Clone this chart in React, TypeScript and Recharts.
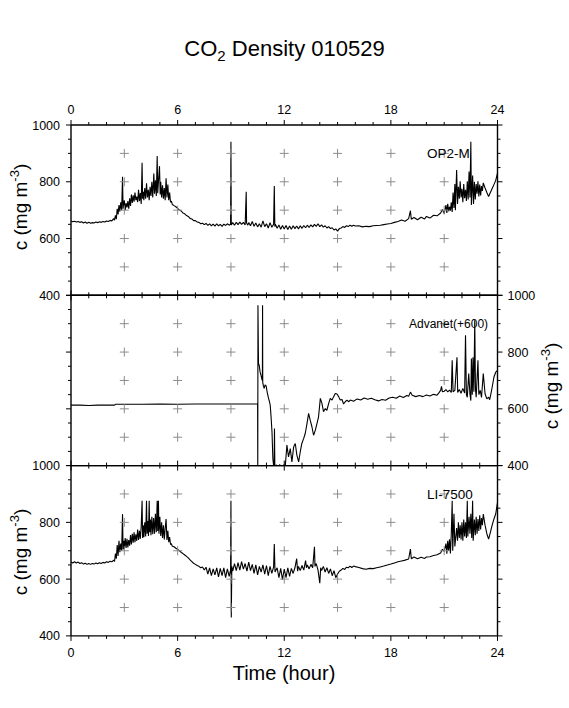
import React from "react";
import { ComposedChart, Line, Scatter, XAxis, YAxis } from "recharts";

// hours of day and concentration ticks shared by the three panels
const hourTicks = [0, 1, 2, 3, 4, 5, 6, 7, 8, 9, 10, 11, 12, 13, 14, 15, 16, 17, 18, 19, 20, 21, 22, 23, 24];
const hourLabels = [0, 6, 12, 18, 24];
const concTicks = [400, 450, 500, 550, 600, 650, 700, 750, 800, 850, 900, 950, 1000];
const concLabels = [400, 600, 800, 1000];
const crossHours = [3, 6, 9, 12, 15, 18, 21];
const crossConc = [500, 600, 700, 800, 900];

// OP2-M open path, [hour, mg m-3]
const op2m: [number, number][] = [
  [0, 662], [0.1, 659], [0.2, 661], [0.3, 658], [0.4, 660], [0.5, 657], [0.6, 659], [0.7, 655], [0.8, 658], [0.9, 654],
  [1.0, 657], [1.1, 654], [1.2, 656], [1.3, 655], [1.4, 658], [1.5, 656], [1.6, 659], [1.7, 657], [1.8, 660], [1.9, 658],
  [2.0, 662], [2.1, 660], [2.2, 664], [2.3, 662], [2.4, 670],
  [2.45, 665], [2.5, 682], [2.55, 668], [2.6, 705], [2.65, 685], [2.7, 718], [2.75, 695], [2.8, 728], [2.85, 700], [2.9, 818],
  [2.93, 705], [2.97, 722], [3.0, 735], [3.05, 700], [3.1, 725], [3.15, 710], [3.2, 732], [3.25, 705], [3.3, 742], [3.35, 715],
  [3.4, 755], [3.45, 725], [3.5, 752], [3.55, 730], [3.6, 762], [3.65, 735], [3.7, 748], [3.75, 728], [3.8, 772], [3.85, 732],
  [3.9, 760], [3.95, 722], [4.0, 867], [4.03, 740], [4.07, 765], [4.1, 735], [4.15, 778], [4.2, 740], [4.25, 795], [4.3, 745],
  [4.35, 772], [4.4, 735], [4.45, 782], [4.5, 750], [4.55, 800], [4.6, 745], [4.66, 829], [4.7, 758], [4.75, 805], [4.8, 750],
  [4.85, 891], [4.88, 760], [4.92, 800], [4.98, 855], [5.02, 755], [5.05, 800], [5.1, 745], [5.15, 788], [5.2, 740], [5.25, 778],
  [5.3, 735], [5.35, 812], [5.4, 745], [5.45, 790], [5.5, 735], [5.55, 762], [5.6, 728], [5.65, 732], [5.7, 720],
  [5.8, 716], [5.9, 712], [6.0, 706], [6.1, 701], [6.2, 697], [6.3, 690], [6.4, 687], [6.5, 681], [6.6, 678], [6.7, 671],
  [6.8, 669], [6.9, 663], [7.0, 663], [7.1, 658], [7.2, 657], [7.3, 652], [7.4, 654], [7.5, 649], [7.6, 653], [7.7, 646],
  [7.8, 652], [7.9, 645], [8.0, 651], [8.1, 644], [8.2, 652], [8.3, 645], [8.4, 650], [8.5, 643], [8.6, 651], [8.7, 646],
  [8.8, 652], [8.9, 647], [8.98, 650], [9.0, 941], [9.02, 648], [9.1, 656], [9.2, 647], [9.3, 657], [9.4, 649], [9.5, 658],
  [9.6, 650], [9.7, 657], [9.8, 648], [9.86, 765], [9.88, 655], [9.95, 647], [10.0, 656], [10.1, 645], [10.2, 660], [10.3, 643],
  [10.4, 655], [10.5, 641], [10.6, 652], [10.7, 640], [10.8, 662], [10.9, 642], [11.0, 652], [11.1, 637], [11.2, 656], [11.3, 640],
  [11.4, 650], [11.44, 785], [11.47, 642], [11.5, 650], [11.6, 636], [11.7, 648], [11.8, 633], [11.9, 646], [12.0, 634], [12.1, 646],
  [12.2, 632], [12.3, 644], [12.4, 633], [12.5, 645], [12.6, 635], [12.7, 644], [12.8, 634], [12.9, 645], [13.0, 636], [13.1, 646],
  [13.2, 638], [13.3, 647], [13.4, 639], [13.5, 648], [13.6, 641], [13.7, 650], [13.8, 643], [13.9, 652], [14.0, 642], [14.1, 648],
  [14.2, 640], [14.3, 645], [14.4, 637], [14.5, 642], [14.6, 635], [14.7, 638], [14.8, 630], [14.9, 634], [15.0, 626], [15.1, 635],
  [15.2, 637], [15.3, 642], [15.4, 639], [15.5, 645], [15.6, 642], [15.7, 647], [15.8, 643], [15.9, 647], [16.0, 644], [16.2, 645],
  [16.4, 641], [16.6, 643], [16.8, 642], [17.0, 645], [17.2, 646], [17.4, 647], [17.6, 649], [17.8, 651], [18.0, 653], [18.2, 657],
  [18.4, 660], [18.6, 665], [18.8, 661], [19.0, 670], [19.1, 698], [19.15, 668], [19.3, 674], [19.5, 666], [19.7, 675], [19.9, 669],
  [20.0, 678], [20.2, 672], [20.4, 682], [20.6, 680], [20.8, 690], [20.9, 702], [21.0, 688], [21.1, 718], [21.15, 690], [21.2, 722],
  [21.25, 696], [21.3, 712], [21.35, 698], [21.4, 728], [21.45, 694], [21.5, 762], [21.55, 708], [21.6, 792], [21.63, 700], [21.7, 841],
  [21.75, 722], [21.8, 782], [21.85, 740], [21.9, 802], [21.95, 745], [22.0, 775], [22.05, 728], [22.1, 792], [22.15, 742], [22.2, 772],
  [22.25, 732], [22.3, 802], [22.35, 738], [22.4, 836], [22.45, 745], [22.5, 941], [22.53, 718], [22.6, 822], [22.65, 722], [22.7, 800],
  [22.75, 738], [22.8, 792], [22.85, 758], [22.9, 802], [22.95, 748], [23.0, 790], [23.05, 752], [23.1, 785], [23.15, 768], [23.2, 796],
  [23.3, 778], [23.4, 762], [23.5, 748], [23.6, 762], [23.7, 776], [23.8, 790], [23.9, 805], [24.0, 830],
];

// Advanet closed path, shifted +600
const advanet: [number, number][] = [
  [0, 613], [0.5, 613], [1, 612], [1.5, 613], [2, 613], [2.45, 613], [2.5, 616], [3, 616], [4, 616], [5, 617],
  [6, 616], [7, 617], [8, 617], [9, 617], [10, 617], [10.5, 617],
  [10.51, 385], [10.52, 965], [10.55, 760], [10.59, 754], [10.64, 730], [10.69, 719], [10.74, 705], [10.77, 700], [10.78, 965], [10.79, 693],
  [10.83, 680], [10.87, 672], [10.92, 684], [10.98, 681], [11.05, 655], [11.12, 636], [11.17, 625], [11.21, 613], [11.26, 570], [11.31, 519],
  [11.36, 424], [11.4, 401], [11.43, 398], [11.45, 531], [11.47, 396], [11.55, 402], [11.65, 397], [11.75, 403], [11.85, 396], [11.95, 402],
  [12.06, 400], [12.15, 472], [12.24, 431], [12.34, 460], [12.43, 413], [12.53, 466], [12.62, 478], [12.71, 437], [12.81, 413], [12.9, 448],
  [12.99, 478], [13.09, 495], [13.18, 513], [13.28, 548], [13.37, 584], [13.46, 560], [13.56, 536], [13.65, 507], [13.75, 525], [13.84, 548],
  [13.93, 572], [14.03, 637], [14.12, 619], [14.21, 590], [14.31, 601], [14.4, 595], [14.5, 619], [14.59, 637], [14.69, 631], [14.78, 643],
  [14.87, 654], [14.97, 652], [15.06, 643], [15.15, 631], [15.25, 633], [15.34, 617], [15.43, 625], [15.53, 631], [15.62, 625], [15.72, 631],
  [15.9, 627], [16.1, 635], [16.3, 631], [16.5, 638], [16.7, 634], [16.9, 637], [17.1, 632], [17.3, 628], [17.5, 633], [17.7, 630],
  [17.9, 638], [18.1, 641], [18.3, 637], [18.5, 645], [18.7, 640], [18.9, 647], [19.0, 644], [19.1, 659], [19.2, 648], [19.4, 643],
  [19.6, 647], [19.8, 643], [20.0, 649], [20.2, 645], [20.4, 651], [20.6, 648], [20.7, 656], [20.8, 665], [20.85, 679], [20.9, 660],
  [21.0, 662], [21.1, 668], [21.2, 660], [21.3, 666], [21.4, 658], [21.45, 771], [21.5, 660], [21.6, 665], [21.72, 782], [21.76, 658],
  [21.85, 668], [21.95, 655], [22.05, 672], [22.15, 656], [22.2, 859], [22.25, 650], [22.3, 641], [22.38, 724], [22.45, 652], [22.5, 629],
  [22.53, 777], [22.58, 650], [22.62, 782], [22.67, 660], [22.72, 912], [22.76, 670], [22.8, 641], [22.9, 771], [22.95, 650], [23.03, 665],
  [23.1, 640], [23.2, 724], [23.3, 653], [23.4, 635], [23.5, 641], [23.56, 632], [23.62, 650], [23.7, 676], [23.8, 712], [23.9, 729],
  [24.0, 735],
];

// LI-7500 open path
const li7500: [number, number][] = [
  [0, 660], [0.1, 657], [0.2, 661], [0.3, 657], [0.4, 660], [0.5, 655], [0.6, 658], [0.7, 653], [0.8, 656], [0.9, 652],
  [1.0, 655], [1.1, 652], [1.2, 655], [1.3, 653], [1.4, 657], [1.5, 654], [1.6, 658], [1.7, 655], [1.8, 659], [1.9, 657],
  [2.0, 661], [2.1, 659], [2.2, 663], [2.3, 661], [2.4, 667],
  [2.45, 662], [2.5, 690], [2.55, 672], [2.6, 720], [2.65, 682], [2.7, 735], [2.75, 695], [2.8, 725], [2.85, 700], [2.9, 829],
  [2.93, 705], [2.97, 735], [3.0, 705], [3.05, 745], [3.1, 710], [3.15, 742], [3.2, 712], [3.25, 738], [3.3, 718], [3.35, 755],
  [3.4, 722], [3.45, 760], [3.5, 728], [3.55, 765], [3.6, 730], [3.65, 758], [3.7, 735], [3.75, 775], [3.8, 738], [3.85, 770],
  [3.9, 742], [3.95, 785], [4.0, 876], [4.03, 745], [4.07, 790], [4.1, 748], [4.15, 800], [4.2, 750], [4.25, 876], [4.28, 760],
  [4.32, 805], [4.36, 752], [4.4, 876], [4.43, 765], [4.47, 810], [4.5, 755], [4.55, 820], [4.6, 758], [4.65, 815], [4.7, 760],
  [4.75, 830], [4.8, 765], [4.85, 876], [4.88, 770], [4.92, 876], [4.95, 760], [5.0, 820], [5.05, 752], [5.1, 800], [5.15, 745],
  [5.2, 790], [5.25, 740], [5.3, 780], [5.35, 812], [5.4, 738], [5.45, 770], [5.5, 730], [5.55, 748], [5.6, 722], [5.65, 725],
  [5.7, 716], [5.8, 714], [5.9, 709], [6.0, 705], [6.1, 700], [6.2, 694], [6.3, 690], [6.4, 685], [6.5, 680], [6.6, 675],
  [6.7, 668], [6.8, 662], [6.9, 656], [7.0, 652], [7.1, 648], [7.2, 645], [7.3, 640], [7.4, 643], [7.5, 632], [7.6, 642],
  [7.7, 618], [7.8, 640], [7.9, 612], [8.0, 636], [8.1, 615], [8.2, 640], [8.3, 608], [8.4, 638], [8.5, 612], [8.6, 640],
  [8.7, 605], [8.8, 636], [8.9, 610], [8.98, 632], [9.0, 876], [9.02, 465], [9.05, 645], [9.1, 628], [9.2, 655], [9.3, 630],
  [9.4, 658], [9.5, 632], [9.6, 662], [9.7, 635], [9.8, 655], [9.9, 628], [10.0, 660], [10.1, 630], [10.2, 652], [10.3, 620],
  [10.4, 650], [10.5, 615], [10.6, 645], [10.7, 625], [10.8, 650], [10.9, 618], [11.0, 648], [11.1, 612], [11.2, 645], [11.3, 620],
  [11.4, 642], [11.44, 724], [11.48, 625], [11.6, 640], [11.7, 605], [11.8, 638], [11.9, 598], [12.0, 635], [12.1, 605], [12.2, 640],
  [12.3, 610], [12.4, 638], [12.5, 620], [12.6, 640], [12.7, 672], [12.75, 628], [12.8, 645], [12.9, 630], [13.0, 648], [13.1, 632],
  [13.2, 665], [13.25, 640], [13.3, 650], [13.4, 636], [13.5, 652], [13.6, 640], [13.7, 714], [13.73, 645], [13.8, 655], [13.9, 632],
  [14.0, 586], [14.05, 640], [14.1, 630], [14.2, 645], [14.3, 625], [14.4, 640], [14.5, 620], [14.6, 636], [14.7, 612], [14.8, 630],
  [14.9, 605], [15.0, 618], [15.1, 628], [15.2, 632], [15.3, 638], [15.4, 634], [15.5, 642], [15.6, 640], [15.7, 646], [15.8, 641],
  [15.9, 646], [16.0, 644], [16.2, 641], [16.4, 637], [16.6, 635], [16.8, 638], [17.0, 637], [17.2, 640], [17.4, 643], [17.6, 646],
  [17.8, 650], [18.0, 653], [18.2, 657], [18.4, 661], [18.6, 664], [18.8, 667], [19.0, 671], [19.1, 706], [19.15, 672], [19.3, 678],
  [19.5, 672], [19.7, 677], [19.9, 673], [20.0, 678], [20.2, 679], [20.4, 683], [20.6, 686], [20.8, 692], [20.9, 705], [21.0, 698],
  [21.1, 725], [21.15, 690], [21.2, 735], [21.25, 700], [21.3, 740], [21.35, 690], [21.4, 760], [21.45, 876], [21.48, 700], [21.55, 830],
  [21.6, 715], [21.7, 780], [21.75, 735], [21.8, 800], [21.85, 745], [21.9, 790], [21.95, 740], [22.0, 800], [22.05, 735], [22.1, 810],
  [22.15, 750], [22.2, 800], [22.25, 745], [22.3, 876], [22.33, 750], [22.4, 820], [22.45, 760], [22.5, 830], [22.55, 745], [22.6, 876],
  [22.63, 735], [22.7, 810], [22.75, 755], [22.8, 820], [22.85, 760], [22.9, 812], [22.95, 770], [23.0, 825], [23.05, 775], [23.1, 815],
  [23.15, 790], [23.2, 829], [23.3, 790], [23.4, 760], [23.5, 741], [23.6, 765], [23.7, 790], [23.8, 812], [23.9, 830], [24.0, 870],
];

const W = 569;
const H = 708;
const LEFT = 71;
const RIGHT = 497.5;
const PANEL_H = 170.3;
const AX_H = 20;
const AX_W = 40;
const FONT = "'Liberation Sans', Arial, Helvetica, sans-serif";

const toRows = (s: [number, number][]) => s.map(([h, v]) => ({ h, v }));
const crosses = crossHours.flatMap(h => crossConc.map(v => ({ h, v })));

function Cross(p: any) {
  const { cx, cy } = p;
  return (
    <g stroke="#8c8c8c" strokeWidth={1}>
      <line x1={cx - 4.5} x2={cx + 4.5} y1={cy} y2={cy} />
      <line x1={cx} x2={cx} y1={cy - 4.5} y2={cy + 4.5} />
    </g>
  );
}

function HourTick(p: any) {
  const { x, y, payload, side, show } = p;
  const major = hourLabels.includes(payload.value);
  const dir = side === "top" ? -1 : 1;
  return (
    <g>
      <line x1={x} x2={x} y1={y} y2={y + dir * (major ? 5 : 3)} stroke="#000" strokeWidth={1} />
      {show && major && (
        <text x={x} y={side === "top" ? y - 11 : y + 21} textAnchor="middle" fontSize={12.5} fontFamily={FONT} fill="#000">
          {payload.value}
        </text>
      )}
    </g>
  );
}

function ConcTick(p: any) {
  const { x, y, payload, side, show } = p;
  const major = concLabels.includes(payload.value);
  const dir = side === "left" ? -1 : 1;
  return (
    <g>
      <line x1={x} x2={x + dir * (major ? 5 : 3)} y1={y} y2={y} stroke="#000" strokeWidth={1} />
      {show && major && (
        <text x={side === "left" ? x - 11 : x + 10} y={y + 4.5} textAnchor={side === "left" ? "end" : "start"}
          fontSize={12.5} fontFamily={FONT} fill="#000">
          {payload.value}
        </text>
      )}
    </g>
  );
}

type PanelProps = {
  series: [number, number][];
  top: number;
  axis: "l" | "r";
  labels: { top?: boolean; bottom?: boolean; left?: boolean; right?: boolean };
};

function Panel({ series, top, axis, labels }: PanelProps) {
  const margin = {
    top: top - AX_H,
    bottom: H - (top + PANEL_H) - AX_H,
    left: LEFT - AX_W,
    right: W - RIGHT - AX_W,
  };
  const frame = { stroke: "#000", strokeWidth: 1.4 };
  return (
    <div style={{ position: "absolute", left: 0, top: 0 }}>
      <ComposedChart width={W} height={H} margin={margin} data={toRows(series)}>
        <XAxis xAxisId="t" orientation="top" type="number" dataKey="h" domain={[0, 24]} allowDataOverflow
          ticks={hourTicks} interval={0} height={AX_H} tickSize={0} tickMargin={0} axisLine={frame}
          tick={(p: any) => <HourTick {...p} side="top" show={labels.top} />} />
        <XAxis xAxisId="b" orientation="bottom" type="number" dataKey="h" domain={[0, 24]} allowDataOverflow
          ticks={hourTicks} interval={0} height={AX_H} tickSize={0} tickMargin={0} axisLine={frame}
          tick={(p: any) => <HourTick {...p} side="bottom" show={labels.bottom} />} />
        <YAxis yAxisId="l" orientation="left" type="number" dataKey="v" domain={[400, 1000]} allowDataOverflow
          ticks={concTicks} interval={0} width={AX_W} tickSize={0} tickMargin={0} axisLine={frame}
          tick={(p: any) => <ConcTick {...p} side="left" show={labels.left} />} />
        <YAxis yAxisId="r" orientation="right" type="number" dataKey="v" domain={[400, 1000]} allowDataOverflow
          ticks={concTicks} interval={0} width={AX_W} tickSize={0} tickMargin={0} axisLine={frame}
          tick={(p: any) => <ConcTick {...p} side="right" show={labels.right} />} />
        <Scatter xAxisId="b" yAxisId={axis} data={crosses} shape={Cross} isAnimationActive={false} />
        <Line xAxisId="b" yAxisId={axis} type="linear" dataKey="v" stroke="#000" strokeWidth={1.1}
          strokeLinejoin="bevel" dot={false} activeDot={false} isAnimationActive={false} />
      </ComposedChart>
    </div>
  );
}

function YLabel({ x, y }: { x: number; y: number }) {
  return (
    <text transform={`translate(${x},${y}) rotate(-90)`} textAnchor="middle" fontSize={19} fontFamily={FONT} fill="#000">
      c (mg m<tspan dy={-8} fontSize={13}>-3</tspan><tspan dy={8}>)</tspan>
    </text>
  );
}

export default function App() {
  const tops = [125, 125 + PANEL_H, 125 + 2 * PANEL_H];
  return (
    <div style={{ position: "absolute", left: 0, top: 0, width: W, height: H, background: "#fff" }}>
      <Panel series={op2m} top={tops[0]} axis="l" labels={{ top: true, left: true }} />
      <Panel series={advanet} top={tops[1]} axis="r" labels={{ right: true }} />
      <Panel series={li7500} top={tops[2]} axis="l" labels={{ bottom: true, left: true }} />
      <svg width={W} height={H} style={{ position: "absolute", left: 0, top: 0, pointerEvents: "none" }}>
        <text x={284.5} y={56} textAnchor="middle" fontSize={22} fontFamily={FONT} fill="#000">
          CO<tspan dy={5} fontSize={15}>2</tspan><tspan dy={-5}> Density 010529</tspan>
        </text>
        <YLabel x={27} y={207} />
        <YLabel x={558} y={386} />
        <YLabel x={27} y={552} />
        <text x={427} y={158} fontSize={13.5} fontFamily={FONT} fill="#000">OP2-M</text>
        <text x={409} y={328} fontSize={12} fontFamily={FONT} fill="#000">Advanet(+600)</text>
        <text x={427} y={499} fontSize={13.5} fontFamily={FONT} fill="#000">LI-7500</text>
        <text x={284} y={680} textAnchor="middle" fontSize={20} fontFamily={FONT} fill="#000">Time (hour)</text>
      </svg>
    </div>
  );
}
